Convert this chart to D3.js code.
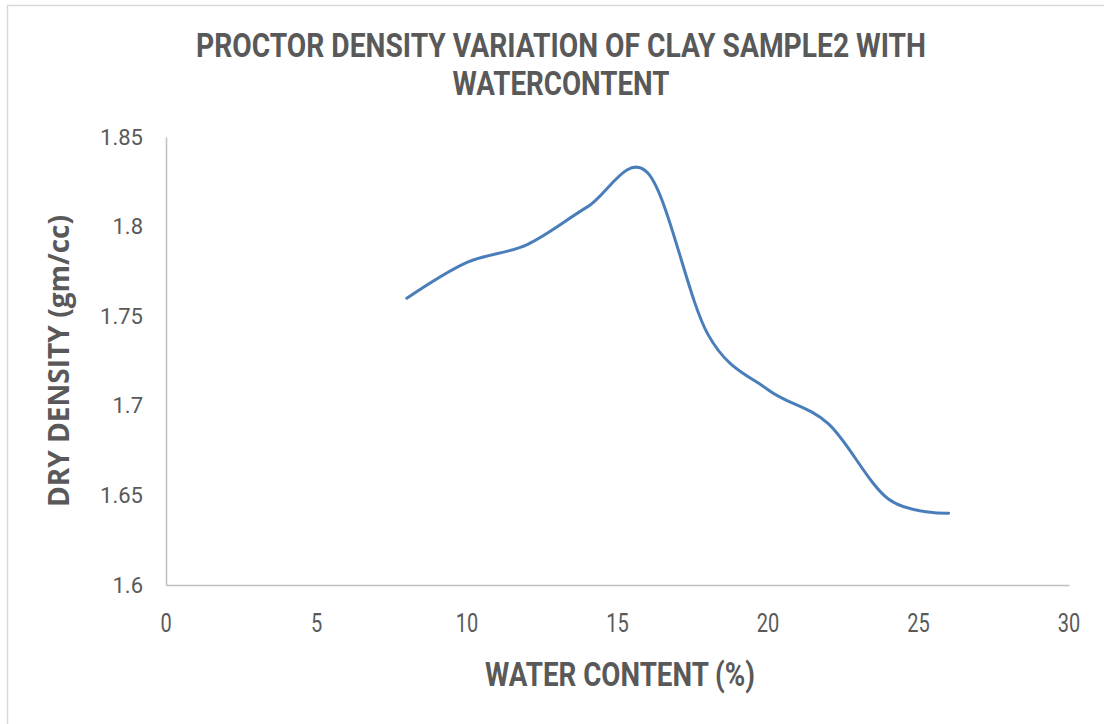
<!DOCTYPE html>
<html>
<head>
<meta charset="utf-8">
<script src="https://cdn.jsdelivr.net/npm/d3@7"></script>
<style>
  html, body { margin: 0; padding: 0; background: #ffffff; }
  svg { display: block; }
</style>
</head>
<body>
<svg id="chart" width="1104" height="724"></svg>
<script>
// ---- data ----
const waterContent = [8, 10, 12, 14, 16, 18, 20, 22, 24, 26];
const dryDensity   = [1.76, 1.78, 1.79, 1.811, 1.83, 1.74, 1.709, 1.69, 1.648, 1.64];
const xTicks = [0, 5, 10, 15, 20, 25, 30];
const yTicks = [1.6, 1.65, 1.7, 1.75, 1.8, 1.85];
const yTickLabels = ["1.6", "1.65", "1.7", "1.75", "1.8", "1.85"];
const titleLines = ["PROCTOR DENSITY VARIATION OF CLAY SAMPLE2 WITH", "WATERCONTENT"];
const xTitle = "WATER CONTENT (%)";
const yTitle = "DRY DENSITY (gm/cc)";

const svg = d3.select("#chart");
const textColor = "#595959";

// chart border (only top/left visible in reference)
svg.append("rect")
  .attr("x", 7.5).attr("y", 5.5)
  .attr("width", 1200).attr("height", 800)
  .attr("fill", "none").attr("stroke", "#d9d9d9").attr("stroke-width", 1.5);

const x = d3.scaleLinear().domain([0, 30]).range([166, 1069]);
const y = d3.scaleLinear().domain([1.6, 1.85]).range([585, 137]);

// title
const narrow = "'Liberation Sans Narrow', 'Arial Narrow', Roboto, sans-serif";
const titleWidths = [730, 217];
const titleBaselines = [57, 95];
titleLines.forEach((t, i) => {
  svg.append("text")
    .attr("x", 561).attr("y", titleBaselines[i])
    .attr("text-anchor", "middle")
    .attr("font-family", narrow)
    .attr("font-weight", "bold")
    .attr("font-size", 33)
    .attr("fill", textColor)
    .attr("textLength", titleWidths[i])
    .attr("lengthAdjust", "spacingAndGlyphs")
    .text(t);
});

// axes
const xAxis = d3.axisBottom(x).tickValues(xTicks).tickSize(0).tickFormat(d3.format("d"));
const gx = svg.append("g").attr("transform", `translate(0,${y(1.6)})`).call(xAxis);
gx.select(".domain").attr("stroke", "#bfbfbf").attr("stroke-width", 1.5);
gx.selectAll(".tick text").remove();
xTicks.forEach(v => {
  svg.append("text")
    .attr("transform", `translate(${x(v)},632) scale(0.8,1)`)
    .attr("text-anchor", "middle")
    .attr("font-family", "Roboto, sans-serif")
    .attr("font-size", 25)
    .attr("fill", textColor)
    .text(String(v));
});

const yAxis = d3.axisLeft(y).tickValues(yTicks).tickSize(0)
  .tickFormat((d, i) => yTickLabels[i]);
const gy = svg.append("g").attr("transform", `translate(${x(0)},0)`).call(yAxis);
gy.select(".domain").attr("stroke", "#bfbfbf").attr("stroke-width", 1.5);
gy.selectAll(".tick text")
  .attr("x", -23)
  .attr("dy", "0.32em")
  .attr("font-family", "Roboto, sans-serif")
  .attr("font-size", 22)
  .attr("fill", textColor);

// axis titles
svg.append("text")
  .attr("x", 620).attr("y", 686)
  .attr("text-anchor", "middle")
  .attr("font-family", narrow)
  .attr("font-weight", "bold")
  .attr("font-size", 33)
  .attr("fill", textColor)
  .attr("textLength", 270)
  .attr("lengthAdjust", "spacingAndGlyphs")
  .text(xTitle);

svg.append("text")
  .attr("transform", `translate(69,361) rotate(-90)`)
  .attr("text-anchor", "middle")
  .attr("font-family", "'Open Sans', sans-serif")
  .attr("font-weight", "bold")
  .attr("font-size", 28)
  .attr("fill", textColor)
  .attr("textLength", 292)
  .attr("lengthAdjust", "spacingAndGlyphs")
  .text(yTitle);

// line
const pts = waterContent.map((w, i) => [w, dryDensity[i]]);
const line = d3.line()
  .x(d => x(d[0])).y(d => y(d[1]))
  .curve(d3.curveCardinal.tension(0));
svg.append("path")
  .datum(pts)
  .attr("d", line)
  .attr("fill", "none")
  .attr("stroke", "#4a7ebb")
  .attr("stroke-width", 3)
  .attr("stroke-linecap", "round")
  .attr("stroke-linejoin", "round");
</script>
</body>
</html>
